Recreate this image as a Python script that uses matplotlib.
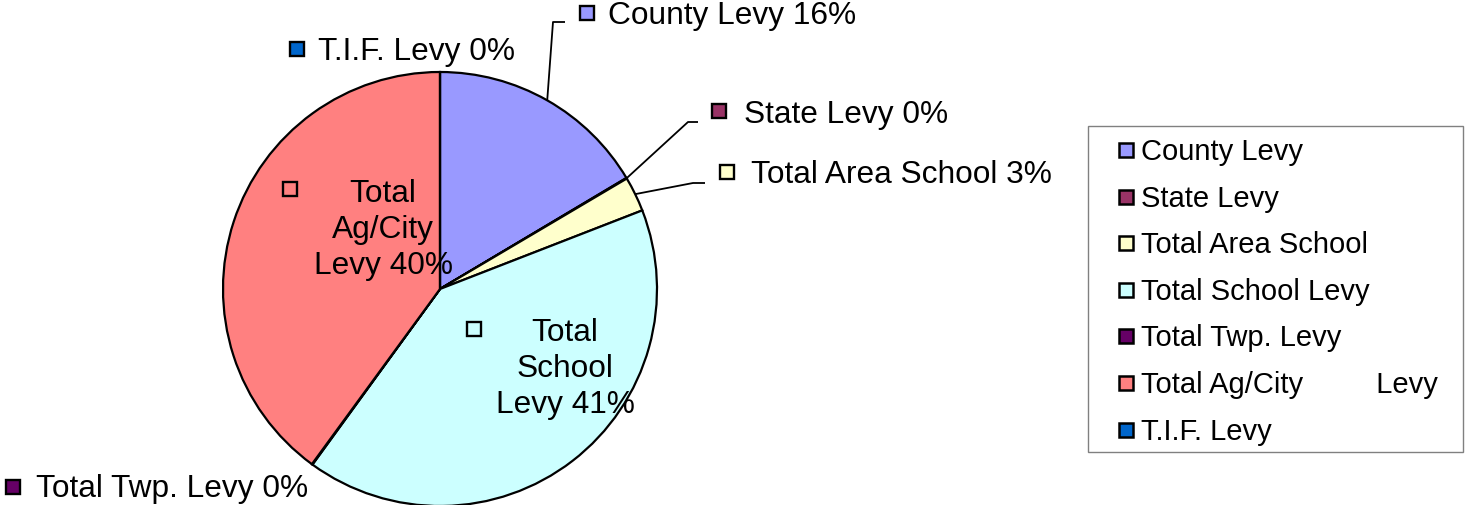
import matplotlib
matplotlib.use("Agg")
import matplotlib.pyplot as plt
from matplotlib.patches import Rectangle
import numpy as np

plt.rcParams['font.family'] = ['Liberation Sans', 'DejaVu Sans']

# ---- data ----
categories = ["County Levy", "State Levy", "Total Area School", "Total School Levy",
              "Total Twp. Levy", "Total Ag/City Levy", "T.I.F. Levy"]
values = [16.45, 0.05, 2.6, 40.9, 0.05, 39.95, 0.0]
pie_label_names = ["County Levy", "State Levy", "Total Area School", "Total\nSchool\nLevy",
                   "Total Twp. Levy", "Total\nAg/City\nLevy", "T.I.F. Levy"]
legend_labels = ["County Levy", "State Levy", "Total Area School", "Total School Levy",
                 "Total Twp. Levy", "Total Ag/City         Levy", "T.I.F. Levy"]
colors = ["#9999FF", "#993366", "#FFFFCC", "#CCFFFF", "#660066", "#FF8080", "#0066CC"]

# ---- layout (pixel coordinates, y downward) ----
W, H = 1466, 506
cx, cy, R = 440, 290, 217
label_layout = [
    dict(mx=587, my=14, tx=608, ty=16, ha="left", leader=[(553, 23), (565, 23)]),
    dict(mx=719, my=112, tx=744, ty=115, ha="left", leader=[(688, 123), (698, 123)]),
    dict(mx=727, my=173, tx=751, ty=175, ha="left", leader=[(693, 184), (705, 184)]),
    dict(mx=474, my=330, tx=565, ty=369, ha="center", leader=None),
    dict(mx=13, my=488, tx=36, ty=489, ha="left", leader=None),
    dict(mx=290, my=190, tx=383, ty=230, ha="center", leader=None),
    dict(mx=297, my=50, tx=318, ty=52, ha="left", leader=None),
]
label_fs = 22.8
legend_fs = 21.0

fig = plt.figure(figsize=(W / 100, H / 100), dpi=100)
ax = fig.add_axes([0, 0, 1, 1])

wedges, _ = ax.pie(values, colors=colors, startangle=-90, counterclock=True,
                   center=(cx, cy), radius=R,
                   wedgeprops=dict(edgecolor="black", linewidth=1.6))
ax.set_xlim(0, W)
ax.set_ylim(H, 0)
ax.set_aspect("equal")
ax.axis("off")

total = sum(values)
cum = 0.0
for i, v in enumerate(values):
    pct = 100 * v / total
    mid = np.deg2rad((cum + v / 2) / total * 360)
    cum += v
    lay = label_layout[i]
    if lay["leader"] is not None:
        sx = cx + R * np.sin(mid)
        sy = cy - R * np.cos(mid)
        xs = [sx] + [p[0] for p in lay["leader"]]
        ys = [sy] + [p[1] for p in lay["leader"]]
        ax.plot(xs, ys, color="black", linewidth=1.3, solid_capstyle="butt")
    s = 13.5
    ax.add_patch(Rectangle((lay["mx"] - s / 2, lay["my"] - s / 2), s, s,
                           facecolor=colors[i], edgecolor="black", linewidth=1.7, zorder=5))
    ax.text(lay["tx"], lay["ty"], f"{pie_label_names[i]} {pct:.0f}%",
            ha=lay["ha"], va="center", multialignment="center",
            fontsize=label_fs, color="black", linespacing=1.27, zorder=6)

# ---- legend box ----
lx0, ly0, lx1, ly1 = 1088, 127, 1463, 453
ax.add_patch(Rectangle((lx0, ly0), lx1 - lx0, ly1 - ly0, facecolor="white",
                       edgecolor="#808080", linewidth=1.0, zorder=3))
row0, pitch = 151, 46.6
for i, lab in enumerate(legend_labels):
    y = row0 + i * pitch
    s = 14
    ax.add_patch(Rectangle((1126 - s / 2, y - s / 2), s, s, facecolor=colors[i],
                           edgecolor="black", linewidth=1.8, zorder=5))
    ax.text(1141, y + 1, lab, ha="left", va="center", fontsize=legend_fs,
            color="black", zorder=6)

fig.savefig("out.png", dpi=100)
